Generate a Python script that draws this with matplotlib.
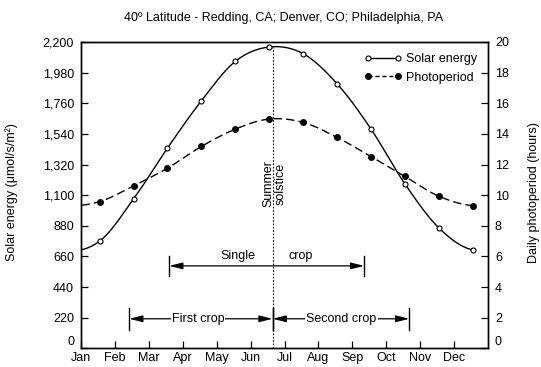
import numpy as np
import matplotlib
matplotlib.use("Agg")
import matplotlib.pyplot as plt
from matplotlib.ticker import FuncFormatter

plt.rcParams['font.family'] = ['Liberation Sans', 'DejaVu Sans']
plt.rcParams['font.size'] = 9

# Monthly readings, sampled about mid-month
months = ['Jan', 'Feb', 'Mar', 'Apr', 'May', 'Jun',
          'Jul', 'Aug', 'Sep', 'Oct', 'Nov', 'Dec']
sample_pos = np.arange(12) + 0.55
solar = np.array([770, 1073, 1438, 1778, 2061, 2164, 2116, 1900, 1575, 1181, 865, 707])
photoperiod = np.array([9.58, 10.61, 11.76, 13.18, 14.31, 14.97,
                        14.75, 13.77, 12.52, 11.22, 9.93, 9.32])

# Growing seasons (in months from Jan 1)
solstice = 5.65
single_crop = (2.60, 8.35)
first_crop = (1.42, solstice)
second_crop = (solstice, 9.68)


def smooth_curve(x, y, period=12, steps=30):
    # periodic Catmull-Rom through the monthly points
    xs = np.concatenate([x[-2:] - period, x, x[:2] + period])
    ys = np.concatenate([y[-2:], y, y[:2]])
    t = np.linspace(0, 1, steps, endpoint=False)[:, None]
    cx, cy = [], []
    for i in range(1, len(xs) - 2):
        for arr, out in ((xs, cx), (ys, cy)):
            p0, p1, p2, p3 = arr[i - 1:i + 3]
            seg = 0.5 * (2 * p1 + (-p0 + p2) * t
                         + (2 * p0 - 5 * p1 + 4 * p2 - p3) * t ** 2
                         + (-p0 + 3 * p1 - 3 * p2 + p3) * t ** 3)
            out.append(seg.ravel())
    cx = np.concatenate(cx)
    cy = np.concatenate(cy)
    keep = (cx >= 0) & (cx <= x[-1])
    return np.append(cx[keep], x[-1]), np.append(cy[keep], y[-1])


fig = plt.figure(figsize=(5.41, 3.67), dpi=100)
ax = fig.add_axes([81 / 541, 1 - 348.3 / 367, 407 / 541, 306.3 / 367])
ax2 = ax.twinx()

ax.set_xlim(0, 12)
ax.set_ylim(0, 2200)
ax2.set_ylim(0, 20)

# solar energy: smooth solid line + open circles
sx, sy = smooth_curve(sample_pos, solar)
ax.plot(sx, sy, color='black', lw=1.0)
ax.plot(sample_pos, solar, 'o', ms=3.6, mfc='white', mec='black', mew=0.8)

# photoperiod: smooth dashed line + filled circles
px, py = smooth_curve(sample_pos, photoperiod)
ax2.plot(px, py, color='black', lw=1.0, ls=(0, (6, 3)))
ax2.plot(sample_pos, photoperiod, 'o', ms=4, color='black')

# summer solstice marker
ax.plot([solstice, solstice], [0, solar.max()], color='black', lw=0.8, ls=(0, (1.5, 1.5)))
ax.text(solstice + 0.05, 1180, 'Summer\nsolstice', rotation=90, ha='center', va='center',
        ma='center', linespacing=1.0, fontsize=9)

# crop seasons
arrow_kw = dict(arrowstyle='<|-|>,head_length=0.8,head_width=0.2', color='black',
                lw=0.9, shrinkA=0, shrinkB=0, mutation_scale=10)


def season(span, y, cap):
    ax.annotate('', xy=(span[1], y), xytext=(span[0], y), arrowprops=arrow_kw)
    for xe in span:
        ax.plot([xe, xe], [y - cap, y + cap], color='black', lw=1.0)


season(single_crop, 592, 72)
ax.text(4.63, 665, 'Single', ha='center', va='center')
ax.text(6.49, 665, 'crop', ha='center', va='center')

season(first_crop, 212, 80)
ax.text(3.45, 212, 'First crop', ha='center', va='center',
        bbox=dict(facecolor='white', edgecolor='none', pad=0.8))
season(second_crop, 212, 80)
ax.text(7.68, 212, 'Second crop', ha='center', va='center',
        bbox=dict(facecolor='white', edgecolor='none', pad=0.8))

# axes and ticks
ax.set_xticks(range(12))
ax.set_xticklabels(months)
ax.set_yticks(np.arange(0, 2201, 220))
ax.yaxis.set_major_formatter(FuncFormatter(lambda v, p: f'{int(v):,}'))
ax2.set_yticks(np.arange(0, 21, 2))
ax.tick_params(axis='both', direction='in', length=5, width=0.9, labelsize=9)
ax.tick_params(axis='x', pad=3)
ax.tick_params(axis='y', pad=5)
ax2.tick_params(axis='y', direction='in', length=5, width=0.9, labelsize=9, pad=5)
for a in (ax, ax2):
    for s in a.spines.values():
        s.set_linewidth(1.0)
# lift the two zero labels a little so they clear the month names
ax.get_yticklabels()[0].set_va('bottom')
ax2.get_yticklabels()[0].set_va('bottom')

ax.set_ylabel('Solar energy (μmol/s/m²)', fontsize=9)
ax.yaxis.set_label_coords(-0.155, 0.51)
ax2.set_ylabel('Daily photoperiod (hours)', fontsize=9)
ax2.yaxis.set_label_coords(1.098, 0.51)

fig.text(284 / 541, 1 - 18 / 367, '40º Latitude - Redding, CA; Denver, CO; Philadelphia, PA',
         ha='center', va='center', fontsize=9)

# legend
h1, = ax2.plot([], [], '-o', color='black', lw=1.0, ms=3.6, mfc='white', mew=0.8)
h2, = ax2.plot([], [], 'o', color='black', lw=1.0, ls=(0, (3, 2)), ms=4)
ax2.legend([h1, h2], ['Solar energy', 'Photoperiod'], loc='upper right', frameon=False,
           numpoints=2, handlelength=3.0, handletextpad=0.3, labelspacing=0.5,
           borderaxespad=0.5, fontsize=9)

fig.savefig('out.png', dpi=100)
